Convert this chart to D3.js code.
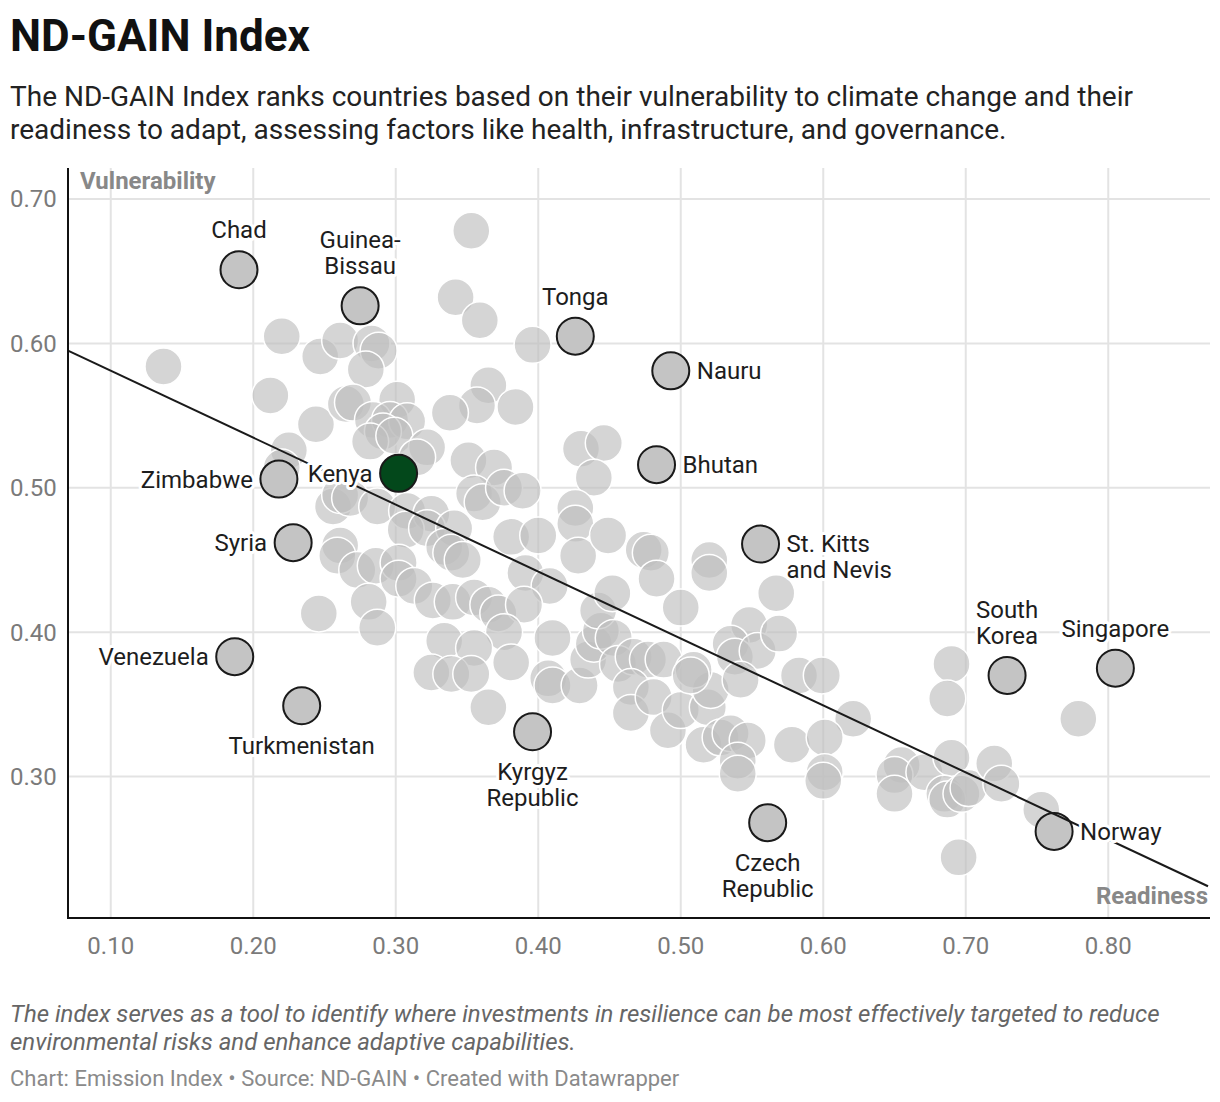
<!DOCTYPE html>
<html>
<head>
<meta charset="utf-8">
<script src="https://cdn.jsdelivr.net/npm/d3@7"></script>
<style>
  html, body { margin: 0; padding: 0; background: #fff; }
  svg { display: block; font-family: Roboto, "Noto Sans", sans-serif; }
</style>
</head>
<body>
<svg id="chart" width="1220" height="1102"></svg>
<script>
// ---------- DATA ----------
const xTicks = [0.10, 0.20, 0.30, 0.40, 0.50, 0.60, 0.70, 0.80];
const yTicks = [0.30, 0.40, 0.50, 0.60, 0.70];

// Background countries (readiness, vulnerability)
const bgReadiness = [
  0.137, 0.220, 0.247, 0.261, 0.283, 0.288, 0.279, 0.212, 0.244, 0.265,
  0.270, 0.301, 0.284, 0.296, 0.308, 0.291, 0.282, 0.299, 0.225, 0.322,
  0.315, 0.220, 0.353, 0.342, 0.359, 0.396, 0.365, 0.357, 0.338, 0.384,
  0.430, 0.446, 0.439, 0.351, 0.369, 0.355, 0.361, 0.376, 0.389, 0.256,
  0.261, 0.268, 0.287, 0.308, 0.325, 0.307, 0.322, 0.341, 0.334, 0.339,
  0.347, 0.381, 0.400, 0.426, 0.426, 0.428, 0.449, 0.474, 0.479, 0.483,
  0.520, 0.520, 0.391, 0.408, 0.261, 0.259, 0.273, 0.286, 0.302, 0.302,
  0.313, 0.281, 0.246, 0.287, 0.326, 0.340, 0.355, 0.365, 0.372, 0.390,
  0.376, 0.334, 0.355, 0.381, 0.325, 0.339, 0.353, 0.365, 0.410, 0.407,
  0.410, 0.429, 0.435, 0.439, 0.444, 0.442, 0.452, 0.453, 0.456, 0.467,
  0.477, 0.488, 0.465, 0.465, 0.481, 0.491, 0.500, 0.519, 0.521, 0.509,
  0.500, 0.548, 0.535, 0.538, 0.554, 0.542, 0.567, 0.569, 0.583, 0.599,
  0.621, 0.516, 0.528, 0.535, 0.547, 0.540, 0.540, 0.578, 0.601, 0.601,
  0.600, 0.690, 0.687, 0.779, 0.655, 0.650, 0.650, 0.671, 0.690, 0.685,
  0.687, 0.697, 0.702, 0.720, 0.725, 0.753, 0.695, 0.507
];
const bgVulnerability = [
  0.584, 0.605, 0.591, 0.602, 0.600, 0.595, 0.582, 0.564, 0.544, 0.558,
  0.559, 0.561, 0.547, 0.547, 0.546, 0.539, 0.532, 0.536, 0.526, 0.528,
  0.521, 0.514, 0.678, 0.632, 0.616, 0.599, 0.571, 0.557, 0.552, 0.556,
  0.527, 0.531, 0.507, 0.519, 0.514, 0.496, 0.490, 0.500, 0.498, 0.487,
  0.495, 0.493, 0.487, 0.484, 0.482, 0.471, 0.472, 0.472, 0.459, 0.455,
  0.450, 0.466, 0.467, 0.486, 0.475, 0.453, 0.467, 0.457, 0.455, 0.437,
  0.450, 0.441, 0.441, 0.432, 0.460, 0.453, 0.443, 0.446, 0.448, 0.437,
  0.432, 0.421, 0.413, 0.403, 0.422, 0.421, 0.424, 0.419, 0.413, 0.419,
  0.400, 0.394, 0.389, 0.379, 0.372, 0.371, 0.371, 0.348, 0.396, 0.368,
  0.363, 0.363, 0.381, 0.392, 0.401, 0.415, 0.427, 0.396, 0.378, 0.383,
  0.381, 0.381, 0.362, 0.344, 0.355, 0.332, 0.346, 0.348, 0.360, 0.374,
  0.417, 0.405, 0.392, 0.383, 0.387, 0.367, 0.427, 0.399, 0.370, 0.370,
  0.340, 0.322, 0.327, 0.330, 0.325, 0.311, 0.302, 0.322, 0.327, 0.303,
  0.297, 0.378, 0.354, 0.340, 0.308, 0.301, 0.288, 0.303, 0.313, 0.288,
  0.284, 0.288, 0.292, 0.309, 0.295, 0.277, 0.244, 0.370
];

// Highlighted countries
const countries = [
  "Chad", "Guinea-Bissau", "Tonga", "Nauru", "Bhutan", "Kenya", "Zimbabwe", "Syria",
  "St. Kitts and Nevis", "Venezuela", "Turkmenistan", "Kyrgyz Republic",
  "Czech Republic", "South Korea", "Singapore", "Norway"
];
const countryReadiness = [
  0.190, 0.275, 0.426, 0.493, 0.483, 0.302, 0.218, 0.228,
  0.556, 0.187, 0.234, 0.396, 0.561, 0.729, 0.805, 0.762
];
const countryVulnerability = [
  0.651, 0.626, 0.605, 0.581, 0.516, 0.510, 0.506, 0.462,
  0.461, 0.383, 0.349, 0.331, 0.268, 0.370, 0.375, 0.262
];
// Label text lines and placement side
const labelLines = [
  ["Chad"], ["Guinea-", "Bissau"], ["Tonga"], ["Nauru"], ["Bhutan"], ["Kenya"],
  ["Zimbabwe"], ["Syria"], ["St. Kitts", "and Nevis"], ["Venezuela"],
  ["Turkmenistan"], ["Kyrgyz", "Republic"], ["Czech", "Republic"],
  ["South", "Korea"], ["Singapore"], ["Norway"]
];
const labelSide = [
  "top", "top", "top", "right", "right", "left", "left", "left",
  "right", "left", "bottom", "bottom", "bottom", "top", "top", "right"
];

// Linear trend line endpoints (readiness, vulnerability)
const trendReadiness = [0.07, 0.87];
const trendVulnerability = [0.595, 0.224];

// ---------- CHART ----------
const svg = d3.select("#chart");
const x = d3.scaleLinear().domain([0.07, 0.87]).range([68, 1208]);
const y = d3.scaleLinear().domain([0.202, 0.7215]).range([918, 168]);
const R = 18.5;
const fmt = d3.format(".2f");

// Header
svg.append("text").attr("x", 10).attr("y", 51)
  .attr("font-size", 44).attr("font-weight", 700).attr("fill", "#111")
  .text("ND-GAIN Index");
const sub = ["The ND-GAIN Index ranks countries based on their vulnerability to climate change and their",
             "readiness to adapt, assessing factors like health, infrastructure, and governance."];
sub.forEach((t, i) => svg.append("text").attr("x", 10).attr("y", 106 + i * 33)
  .attr("font-size", 28).attr("fill", "#222").text(t));

// Grid
const grid = svg.append("g");
grid.selectAll("line.gx").data(xTicks).join("line")
  .attr("x1", d => x(d)).attr("x2", d => x(d))
  .attr("y1", 168).attr("y2", 918)
  .attr("stroke", "#e3e3e3").attr("stroke-width", 2);
grid.selectAll("line.gy").data(yTicks).join("line")
  .attr("x1", 68).attr("x2", 1210)
  .attr("y1", d => y(d)).attr("y2", d => y(d))
  .attr("stroke", "#e3e3e3").attr("stroke-width", 2);

// Tick labels
svg.append("g").selectAll("text").data(yTicks).join("text")
  .attr("x", 10).attr("y", d => y(d)).attr("dy", "0.35em")
  .attr("font-size", 24).attr("fill", "#7a7a7a").text(d => fmt(d));
svg.append("g").selectAll("text").data(xTicks).join("text")
  .attr("x", d => x(d)).attr("y", 946).attr("dy", "0.35em").attr("text-anchor", "middle")
  .attr("font-size", 24).attr("fill", "#7a7a7a").text(d => fmt(d));

// Axis titles
svg.append("text").attr("x", 80).attr("y", 181).attr("dy", "0.35em")
  .attr("font-size", 24).attr("font-weight", 700).attr("fill", "#888").text("Vulnerability");
svg.append("text").attr("x", 1208).attr("y", 896).attr("dy", "0.35em").attr("text-anchor", "end")
  .attr("font-size", 24).attr("font-weight", 700).attr("fill", "#888").text("Readiness");

// Background dots
const bg = bgReadiness.map((r, i) => ({ r, v: bgVulnerability[i] }));
svg.append("g").selectAll("circle").data(bg).join("circle")
  .attr("cx", d => x(d.r)).attr("cy", d => y(d.v)).attr("r", R)
  .attr("fill", "#bfbfbf").attr("fill-opacity", 0.65)
  .attr("stroke", "#fff").attr("stroke-width", 1.5);

// Highlighted dots
const hl = countries.map((c, i) => ({
  name: c, r: countryReadiness[i], v: countryVulnerability[i],
  lines: labelLines[i], side: labelSide[i]
}));
svg.append("g").selectAll("circle").data(hl).join("circle")
  .attr("cx", d => x(d.r)).attr("cy", d => y(d.v)).attr("r", R)
  .attr("fill", d => d.name === "Kenya" ? "#03481b" : "#c4c4c4")
  .attr("stroke", "#1a1a1a").attr("stroke-width", 2);

// Trend line
svg.append("path")
  .datum(trendReadiness.map((r, i) => [r, trendVulnerability[i]]))
  .attr("d", d3.line().x(d => x(d[0])).y(d => y(d[1])))
  .attr("fill", "none").attr("stroke", "#1a1a1a").attr("stroke-width", 2);

// Labels
const LH = 26;
const lab = svg.append("g").attr("font-size", 24).attr("fill", "#1d1d1d");
hl.forEach(d => {
  const cx = x(d.r), cy = y(d.v);
  const n = d.lines.length;
  d.lines.forEach((t, j) => {
    let tx = cx, ty = cy, anchor = "middle";
    if (d.side === "top") { ty = cy - 40 - (n - 1 - j) * LH; }
    else if (d.side === "bottom") { ty = cy + 40 + j * LH; }
    else if (d.side === "right") { tx = cx + 26; ty = cy + j * LH; anchor = "start"; }
    else { tx = cx - 26; ty = cy + j * LH; anchor = "end"; }
    lab.append("text").attr("x", tx).attr("y", ty).attr("dy", "0.35em")
      .attr("text-anchor", anchor)
      .attr("stroke", "#fff").attr("stroke-width", 6).attr("stroke-linejoin", "round")
      .attr("paint-order", "stroke")
      .text(t);
  });
});

// Axes lines
svg.append("line").attr("x1", 68).attr("x2", 68).attr("y1", 168).attr("y2", 919)
  .attr("stroke", "#111").attr("stroke-width", 2);
svg.append("line").attr("x1", 67).attr("x2", 1210).attr("y1", 918).attr("y2", 918)
  .attr("stroke", "#111").attr("stroke-width", 2);

// Footer
const notes = ["The index serves as a tool to identify where investments in resilience can be most effectively targeted to reduce",
               "environmental risks and enhance adaptive capabilities."];
notes.forEach((t, i) => svg.append("text").attr("x", 10).attr("y", 1022 + i * 28)
  .attr("font-size", 24).attr("font-style", "italic").attr("fill", "#666").text(t));
svg.append("text").attr("x", 10).attr("y", 1086)
  .attr("font-size", 22).attr("fill", "#8a8a8a")
  .text("Chart: Emission Index • Source: ND-GAIN • Created with Datawrapper");
</script>
</body>
</html>
